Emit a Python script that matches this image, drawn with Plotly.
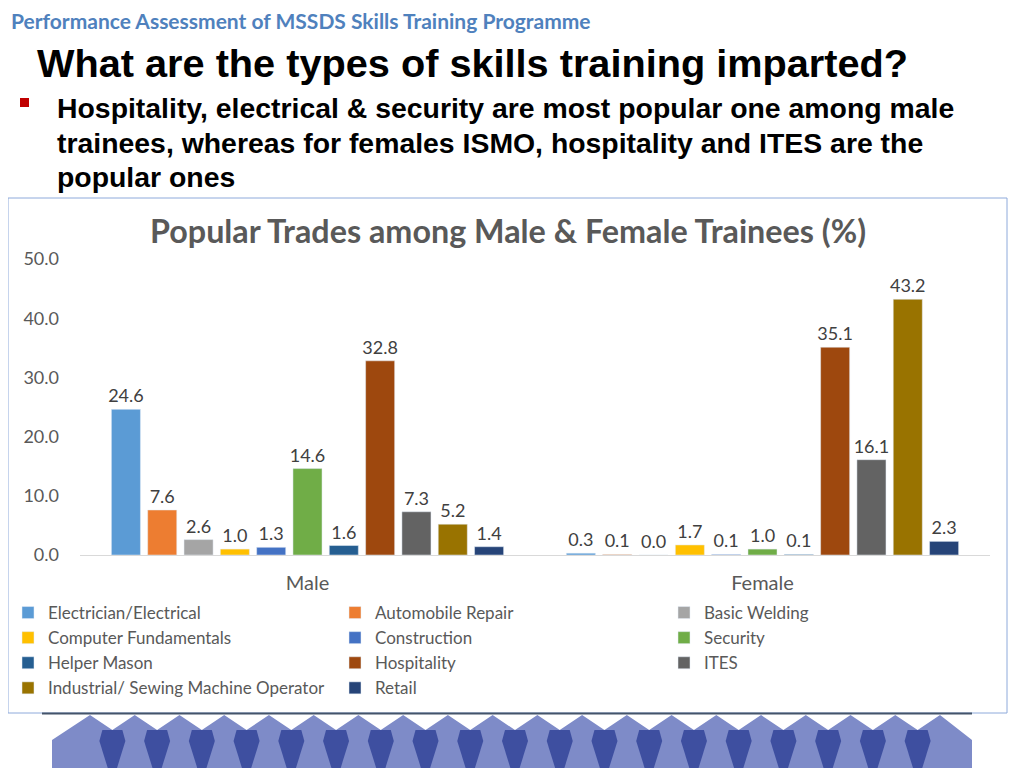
import plotly.graph_objects as go

# ---------------- data ----------------
groups = ["Male", "Female"]
trades = ["Electrician/Electrical", "Automobile Repair", "Basic Welding",
          "Computer Fundamentals", "Construction", "Security",
          "Helper Mason", "Hospitality", "ITES",
          "Industrial/ Sewing Machine Operator", "Retail"]
male_pct = [24.6, 7.6, 2.6, 1.0, 1.3, 14.6, 1.6, 32.8, 7.3, 5.2, 1.4]
female_pct = [0.3, 0.1, 0.0, 1.7, 0.1, 1.0, 0.1, 35.1, 16.1, 43.2, 2.3]
colors = ["#5B9BD5", "#ED7D31", "#A5A5A5", "#FFC000", "#4472C4", "#70AD47",
          "#255E91", "#9E480E", "#636363", "#997300", "#264478"]
y_ticks = [0, 10, 20, 30, 40, 50]
bullet_lines = [
    "Hospitality, electrical &amp; security are most popular one among male",
    "trainees, whereas for females ISMO, hospitality and ITES are the",
    "popular ones",
]

# page has an 8px body margin -> figure is 1016x760, offset by 8px
OFF = 8
W, H = 1016, 760
L, R, T, B = 72, 34, 251, 213
PW, PH = W - L - R, H - T - B


def px(x):  # page x -> paper
    return (x - OFF - L) / PW


def py(y):  # page y -> paper
    return (H - B - (y - OFF)) / PH


legend_ids = ["legend", "legend2", "legend3"]

fig = go.Figure()
for i, (name, m, f, c) in enumerate(zip(trades, male_pct, female_pct, colors)):
    fig.add_trace(go.Bar(
        name=name, x=groups, y=[m, f], marker_color=c,
        texttemplate="%{y:.1f}", textposition="outside",
        constraintext="none",
        textfont=dict(family="Lato", size=18, color="#404040"),
        cliponaxis=False, legend=legend_ids[i % 3],
    ))

shapes = []
# decorative band at the bottom
peaks = [90 + i * (940 - 90) / 19 for i in range(20)]
path = f"M {px(52)},{py(770)} L {px(52)},{py(740)} "
for i, pk in enumerate(peaks):
    path += f"L {px(pk)},{py(715)} "
    if i < len(peaks) - 1:
        vx = (pk + peaks[i + 1]) / 2
        path += f"L {px(vx)},{py(730)} "
path += f"L {px(972)},{py(740)} L {px(972)},{py(770)} Z"
shapes.append(dict(type="path", xref="paper", yref="paper", path=path,
                   fillcolor="#7E8BC8", line=dict(width=0), layer="below"))
for i in range(len(peaks) - 1):
    vx = (peaks[i] + peaks[i + 1]) / 2
    p = (f"M {px(vx-10)},{py(730)} L {px(vx+10)},{py(730)} L {px(vx+13)},{py(741)} "
         f"L {px(vx+4)},{py(770)} L {px(vx-4)},{py(770)} L {px(vx-13)},{py(741)} Z")
    shapes.append(dict(type="path", xref="paper", yref="paper", path=p,
                       fillcolor="#3E4FA0", line=dict(width=0), layer="below"))
# chart box
shapes.append(dict(type="rect", xref="paper", yref="paper", layer="below",
                   x0=px(8), x1=px(1007), y0=py(713), y1=py(198),
                   fillcolor="white", line=dict(color="#8EAADB", width=1)))
shapes.append(dict(type="line", xref="paper", yref="paper", layer="below",
                   x0=px(42), x1=px(972), y0=py(713.5), y1=py(713.5),
                   line=dict(color="#44546A", width=2)))
# red bullet
shapes.append(dict(type="rect", xref="paper", yref="paper",
                   x0=px(20), x1=px(29), y0=py(107), y1=py(98),
                   fillcolor="#C00000", line=dict(width=0)))

annotations = [
    dict(text="<b>Performance Assessment of MSSDS Skills Training Programme</b>",
         x=px(9), y=py(20), xanchor="left", yanchor="middle",
         font=dict(family="Lato", size=21, color="#4F81BD")),
    dict(text="<b>What are the types of skills training imparted?</b>",
         x=px(35), y=py(63), xanchor="left", yanchor="middle",
         font=dict(family="Liberation Sans", size=39.7, color="black")),
    dict(text="<b>Popular Trades among Male &amp; Female Trainees (%)</b>",
         x=px(508), y=py(230), xanchor="center", yanchor="middle",
         font=dict(family="Lato", size=32.3, color="#595959")),
]
for line, yy in zip(bullet_lines, [108, 143, 177]):
    annotations.append(dict(text=f"<b>{line}</b>", x=px(55), y=py(yy),
                            xanchor="left", yanchor="middle",
                            font=dict(family="Liberation Sans", size=28.4,
                                      color="black")))
for a in annotations:
    a.update(xref="paper", yref="paper", showarrow=False)

leg_common = dict(orientation="v", xref="container", yref="container",
                  xanchor="left", yanchor="top", y=(H - (595 - OFF)) / H,
                  traceorder="normal", tracegroupgap=0,
                  font=dict(family="Lato", size=17, color="#595959"),
                  bgcolor="rgba(0,0,0,0)")
text_starts = [48, 375, 704]
leg_x = [max(0.0, (t - OFF - 40) / W) for t in text_starts]

fig.update_layout(
    width=W, height=H,
    margin=dict(l=L, r=R, t=T, b=B, pad=0, autoexpand=False),
    paper_bgcolor="white", plot_bgcolor="rgba(0,0,0,0)",
    barmode="group", bargap=0.122, bargroupgap=0.2,
    font=dict(family="Lato", color="#595959"),
    shapes=shapes, annotations=annotations,
    showlegend=True,
    legend=dict(leg_common, x=leg_x[0]),
    legend2=dict(leg_common, x=leg_x[1]),
    legend3=dict(leg_common, x=leg_x[2]),
    xaxis=dict(showline=True, linecolor="#D9D9D9", linewidth=1,
               showgrid=False, ticks="", ticklabelstandoff=10,
               tickfont=dict(family="Lato", size=20, color="#595959")),
    yaxis=dict(range=[0, 50], tickvals=y_ticks, tickformat=".1f",
               showgrid=False, zeroline=False, showline=False, ticks="",
               ticklabelstandoff=20,
               tickfont=dict(family="Lato", size=18, color="#595959")),
)

fig.write_html("out.html")
